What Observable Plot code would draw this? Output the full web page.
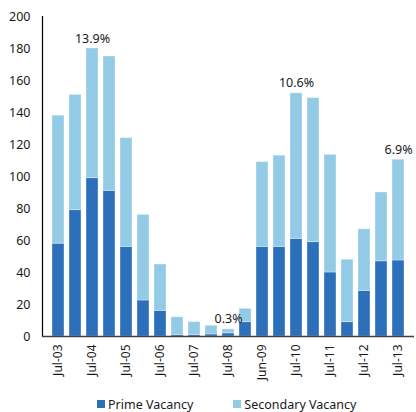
<!DOCTYPE html>
<html>
<head>
<meta charset="utf-8">
<script src="https://cdn.jsdelivr.net/npm/d3@7"></script>
<script src="https://cdn.jsdelivr.net/npm/@observablehq/plot@0.6"></script>
<style>
  body { margin: 0; background: #fff; font-family: "Noto Sans", sans-serif; }
  #chart { width: 416px; }
  .legend { display: flex; justify-content: flex-start; gap: 40px; padding-left: 97px; margin-top: 3px;
            font-size: 12.5px; color: #1a1a1a; height: 18px; align-items: center; }
  .legend span { display: inline-flex; align-items: center; }
  .legend i { display: inline-block; width: 8px; height: 8px; margin-right: 3px; }
</style>
</head>
<body>
<div id="chart"></div>
<script>
// Half-yearly periods (every other one is labelled on the axis)
const periods = ["Jul-03","Jan-04","Jul-04","Jan-05","Jul-05","Jan-06","Jul-06","Jan-07","Jul-07","Jan-08",
                 "Jul-08","Dec-08","Jun-09","Jan-10","Jul-10","Jan-11","Jul-11","Jan-12","Jul-12","Jan-13","Jul-13"];
const tickLabels = ["Jul-03","Jul-04","Jul-05","Jul-06","Jul-07","Jul-08","Jun-09","Jul-10","Jul-11","Jul-12","Jul-13"];

// Vacant space by quality grade
const prime     = [58, 79, 99, 91, 56, 22.5, 16, 1, 1, 1.3, 2, 9, 56, 56, 61, 59, 40, 9, 28.5, 47, 47.5];
const secondary = [80, 72, 81, 84, 68, 53.5, 29, 11, 8, 5.4, 2.5, 8.3, 53, 57, 91, 90, 73.5, 39, 38.5, 43, 63];

// Vacancy rate call-outs
const rateLabels = [
  {period: "Jul-04", text: "13.9%"},
  {period: "Jul-08", text: "0.3%"},
  {period: "Jul-10", text: "10.6%"},
  {period: "Jul-13", text: "6.9%"}
];

const seriesNames = ["Prime Vacancy", "Secondary Vacancy"];
const seriesColors = ["#2c6fbb", "#93cbe6"];

const rows = [];
periods.forEach((p, i) => {
  rows.push({period: p, series: seriesNames[0], value: prime[i]});
  rows.push({period: p, series: seriesNames[1], value: secondary[i]});
});
const totals = new Map(periods.map((p, i) => [p, prime[i] + secondary[i]]));
const callouts = rateLabels.map(d => ({...d, total: totals.get(d.period)}));

const font = "Noto Sans, sans-serif";

const chart = Plot.plot({
  width: 416,
  height: 392,
  marginLeft: 42,
  marginRight: 2,
  marginTop: 16,
  marginBottom: 56,
  style: {fontFamily: font, fontSize: "12.5px", color: "#1a1a1a", background: "#fff"},
  x: {domain: periods, paddingInner: 0.27, paddingOuter: 0.135, label: null},
  y: {domain: [0, 200], label: null},
  color: {domain: seriesNames, range: seriesColors},
  marks: [
    Plot.barY(rows, {
      x: "period", y: "value", fill: "series",
      stroke: "#ffffff", strokeOpacity: 0.35, strokeWidth: 1,
      order: seriesNames
    }),
    Plot.axisY({
      ticks: d3.range(0, 201, 20), tickSize: 0, tickPadding: 12,
      fontSize: 12.5, fill: "#1a1a1a"
    }),
    Plot.axisX({
      ticks: tickLabels, tickSize: 0, tickRotate: -90, tickPadding: 8,
      fontSize: 12, fill: "#1a1a1a"
    }),
    Plot.frame({anchor: "left", stroke: "#000", strokeWidth: 1.2}),
    Plot.ruleY([0], {stroke: "#404040", strokeWidth: 1.5}),
    Plot.text(callouts, {
      x: "period", y: "total", text: "text", dy: -10,
      fontSize: 12.5, fill: "#1a1a1a"
    })
  ]
});

document.getElementById("chart").appendChild(chart);

// Legend below the plot
const legend = document.createElement("div");
legend.className = "legend";
seriesNames.forEach((name, i) => {
  const item = document.createElement("span");
  const sw = document.createElement("i");
  sw.style.background = seriesColors[i];
  item.appendChild(sw);
  item.appendChild(document.createTextNode(name));
  legend.appendChild(item);
});
document.getElementById("chart").appendChild(legend);
</script>
</body>
</html>
